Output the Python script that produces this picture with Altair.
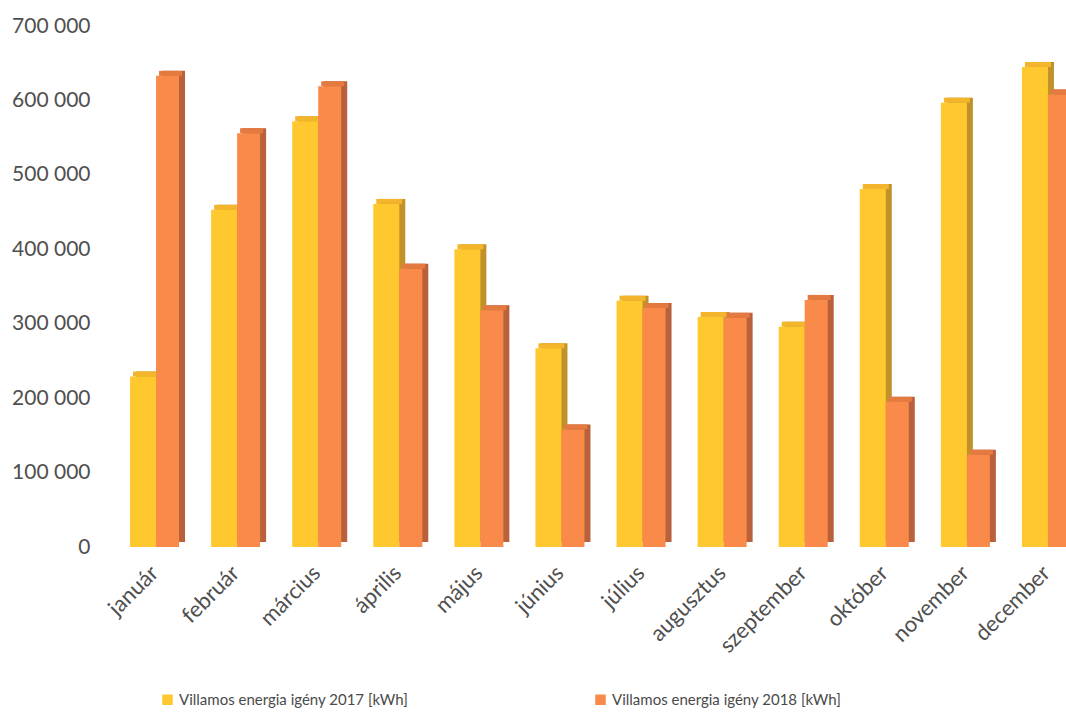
import altair as alt
import pandas as pd

months = ["január", "február", "március", "április", "május", "június",
          "július", "augusztus", "szeptember", "október", "november", "december"]
series = ["Villamos energia igény 2017 [kWh]", "Villamos energia igény 2018 [kWh]"]
v2017 = [229000, 453000, 572000, 461000, 400000, 267000, 331000, 309000, 296000, 481000, 597000, 645000]
v2018 = [633000, 556000, 619000, 374000, 318000, 158000, 321000, 308000, 332000, 195000, 124000, 608000]

front_colors = ["#FFC82E", "#FA8A4A"]
top_colors = ["#F2B52C", "#E47A40"]
side_colors = ["#C2922A", "#B9603C"]

rows = []
for m, a, b in zip(months, v2017, v2018):
    rows.append({"month": m, "series": series[0], "v": a})
    rows.append({"month": m, "series": series[1], "v": b})
df = pd.DataFrame(rows)

FONT = "Lato"

x_enc = alt.X("month:N", sort=months,
              scale=alt.Scale(range=[0, 973], paddingInner=0, paddingOuter=0),
              axis=alt.Axis(title=None, labelAngle=-45, labelAlign="right", labelBaseline="top",
                            labelFontSize=22, labelColor="#4F4F4F", labelFont=FONT,
                            labelOffset=-7,
                            ticks=False, domain=False, grid=False, labelPadding=15))
y_scale = alt.Scale(domain=[0, 700000], nice=False, zero=True)
y_axis = alt.Axis(title=None, values=[0, 100000, 200000, 300000, 400000, 500000, 600000, 700000],
                  labelExpr="replace(format(datum.value, ','), ',', ' ')",
                  labelFontSize=21, labelColor="#4F4F4F", labelFont=FONT,
                  ticks=False, domain=False, grid=False, labelPadding=24)

base = alt.Chart(df)

layers = []
geo = [(-11.5, 26), (13, 23)]
for i, s in enumerate(series):
    center, w = geo[i]
    d = base.transform_filter(alt.datum.series == s)
    back = d.mark_bar(width=w, xOffset=center + 6, yOffset=-5, y2Offset=-5, color=side_colors[i]).encode(
        x=x_enc, y=alt.Y("v:Q", scale=y_scale, axis=y_axis))
    top = d.mark_bar(width=w, xOffset=center + 3, yOffset=-5, color=top_colors[i]).encode(
        x=x_enc, y=alt.Y("v:Q", scale=y_scale, axis=y_axis), y2=alt.Y2("v:Q"))
    front = d.mark_bar(width=w, xOffset=center).encode(
        x=x_enc, y=alt.Y("v:Q", scale=y_scale, axis=y_axis),
        color=alt.Color("series:N", scale=alt.Scale(domain=series, range=front_colors),
                        legend=alt.Legend(title=None, orient="none", legendX=46, legendY=666,
                                          direction="horizontal", symbolType="square", symbolSize=110,
                                          symbolStrokeWidth=0, labelFontSize=15, labelColor="#4A4A4A",
                                          labelFont=FONT, columnPadding=184, labelLimit=400,
                                          labelOffset=4)))
    layers += [back, top, front]

chart = alt.layer(*layers).properties(
    width=952, height=521,
    autosize=alt.AutoSizeParams(type="none"),
    padding={"left": 114, "top": 26, "right": 0, "bottom": 177},
    background="white",
).configure_view(stroke=None)

chart.save("out.html", embed_options={"renderer": "svg", "actions": False})
